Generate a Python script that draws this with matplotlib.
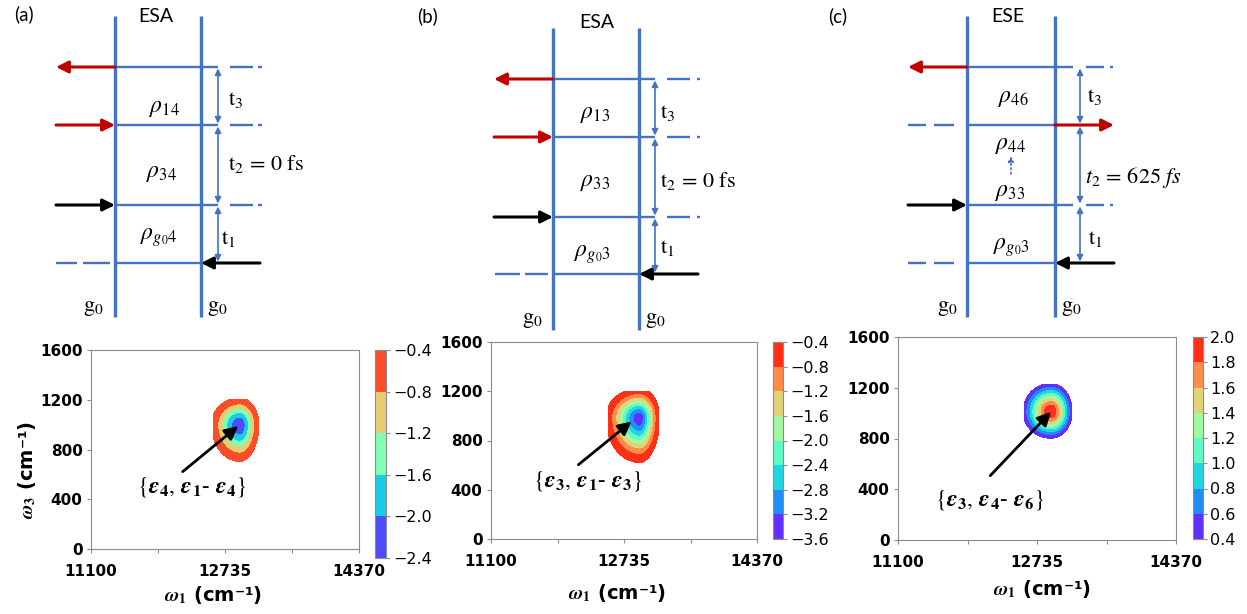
import numpy as np
import matplotlib.pyplot as plt
from matplotlib.ticker import FuncFormatter

plt.rcParams['mathtext.fontset'] = 'stix'

W, H = 1247, 614
BLUE = '#4472C4'
RED = '#C00000'
GRAY = '#8c8c8c'

# ---- text of the three double-sided diagrams ----
panel_tags = ['(a)', '(b)', '(c)']
pathways = ['ESA', 'ESA', 'ESE']
coherence_labels = [
    [r'$\rho_{14}$', r'$\rho_{34}$', r'$\rho_{g_0 4}$'],
    [r'$\rho_{13}$', r'$\rho_{33}$', r'$\rho_{g_0 3}$'],
    [r'$\rho_{46}$', r'$\rho_{44}$', r'$\rho_{33}$', r'$\rho_{g_0 3}$'],
]
delay_labels = [
    [r'$\mathrm{t}_3$', r'$\mathrm{t}_2\,=\,0\ \mathrm{fs}$', r'$\mathrm{t}_1$'],
    [r'$\mathrm{t}_3$', r'$\mathrm{t}_2\,=\,0\ \mathrm{fs}$', r'$\mathrm{t}_1$'],
    [r'$\mathrm{t}_3$', r'$t_2\,=\,625\ fs$', r'$\mathrm{t}_1$'],
]
ground_label = r'$\mathrm{g}_0$'

# ---- 2D spectra: peak ----
levels_a = [-2.4, -2.0, -1.6, -1.2, -0.8, -0.4]
levels_b = [-3.6, -3.2, -2.8, -2.4, -2.0, -1.6, -1.2, -0.8, -0.4]
levels_c = [0.4, 0.6, 0.8, 1.0, 1.2, 1.4, 1.6, 1.8, 2.0]
peak_w1 = [12915, 12925, 12900]
peak_w3 = [1000, 985, 1012]
peak_amp = [-2.3, -3.45, 1.95]
width_left = [185, 200, 185]
width_right = [125, 120, 140]
width_down = [158, 175, 118]
width_up = [115, 115, 125]
grid_w1_lo = [12592, 12542, 12585]
grid_w1_hi = [13141, 13155, 13146]
grid_w3_hi = [1205, 1200, 1225]

peak_names = [
    r'$\{\mathbfit{\varepsilon}_{\mathbf{4}},\,\mathbfit{\varepsilon}_{\mathbf{1}}$- $\mathbfit{\varepsilon}_{\mathbf{4}}\}$',
    r'$\{\mathbfit{\varepsilon}_{\mathbf{3}},\,\mathbfit{\varepsilon}_{\mathbf{1}}$- $\mathbfit{\varepsilon}_{\mathbf{3}}\}$',
    r'$\{\mathbfit{\varepsilon}_{\mathbf{3}},\,\mathbfit{\varepsilon}_{\mathbf{4}}$- $\mathbfit{\varepsilon}_{\mathbf{6}}\}$',
]
arrow_tail = [(12219, 622), (12174, 603), (12185, 507)]
arrow_head = [(12897, 989), (12829, 955), (12900, 1010)]
name_pos = [(12332, 498), (12287, 468), (12185, 316)]

w1_ticks = [11100, 12735, 14370]
w1_minor = [11917.5, 13552.5]
w3_ticks = [0, 400, 800, 1200, 1600]

# ---- layout (pixels) ----
spec_box = [(91, 350, 359, 549), (491, 342, 757, 539), (898, 337, 1176, 540)]
cbar_box = [(375, 350, 386, 558), (773, 342, 783, 539), (1193, 337, 1203, 539)]
xlabel_pos = [(213, 595), (617, 593), (1042, 589)]

diagrams = [
    dict(xl=115, xr=201, lv=[67, 125, 205, 263], ytop=16, ybot=317, tx=218,
         right_ext=[0, 1, 2], solid_end=218, dash=(230, 253), dot=(258, 262),
         left_dash=[3], left_segs=[(56, 77), (83, 110)],
         arrows=[(0, 'L', 'out', RED), (1, 'L', 'in', RED), (2, 'L', 'in', 'k'), (3, 'R', 'in', 'k')],
         tag=(14, 14), title=(156, 17),
         rho=[(165, 107), (162, 172), (159, 237)],
         t=[(228, 100), (228, 164), (221, 239)],
         g=[(93, 308), (217, 308)], rho_arrow=None),
    dict(xl=553, xr=639, lv=[79, 137, 217, 274], ytop=28, ybot=330, tx=655,
         right_ext=[0, 1, 2], solid_end=655, dash=(667, 690), dot=(697, 700),
         left_dash=[3], left_segs=[(495, 520), (525, 548)],
         arrows=[(0, 'L', 'out', RED), (1, 'L', 'in', RED), (2, 'L', 'in', 'k'), (3, 'R', 'in', 'k')],
         tag=(417, 16), title=(597, 23),
         rho=[(595, 113), (595, 181), (592, 254)],
         t=[(660, 113), (660, 181), (660, 248)],
         g=[(532, 320), (655, 320)], rho_arrow=None),
    dict(xl=967, xr=1055, lv=[67, 125, 205, 263], ytop=16, ybot=317, tx=1080,
         right_ext=[0, 2], solid_end=1073, dash=(1086, 1104), dot=(1110, 1113),
         left_dash=[1, 3], left_segs=[(908, 926), (934, 954)],
         arrows=[(0, 'L', 'out', RED), (1, 'R', 'out', RED), (2, 'L', 'in', 'k'), (3, 'R', 'in', 'k')],
         tag=(828, 16), title=(1008, 17),
         rho=[(1013, 97), (1011, 144), (1010, 191), (1011, 247)],
         t=[(1087, 97), (1085, 177), (1088, 239)],
         g=[(947, 308), (1071, 308)], rho_arrow=((1011, 174), (1011, 156))),
]


def px_rect(box):
    x0, y0, x1, y1 = box
    return [x0 / W, 1 - y1 / H, (x1 - x0) / W, (y1 - y0) / H]


def arrow(ax, tail, head, color, lw=2.2, ms=18, style='-|>'):
    ax.annotate('', xy=head, xytext=tail,
                arrowprops=dict(arrowstyle=style, color=color, lw=lw,
                                mutation_scale=ms, shrinkA=0, shrinkB=0))


def draw_diagram(ax, i, d):
    xl, xr, lv = d['xl'], d['xr'], d['lv']
    for x in (xl, xr):
        ax.plot([x, x], [d['ytop'], d['ybot']], color=BLUE, lw=2.4, solid_capstyle='butt')
    for k, y in enumerate(lv):
        end = d['solid_end'] if k in d['right_ext'] else xr
        ax.plot([xl, end], [y, y], color=BLUE, lw=1.7, solid_capstyle='butt')
        if k in d['right_ext']:
            ax.plot(d['dash'], [y, y], color=BLUE, lw=1.7, solid_capstyle='butt')
            ax.plot(d['dot'], [y, y], color=BLUE, lw=1.7, solid_capstyle='butt')
        if k in d['left_dash']:
            for seg in d['left_segs']:
                ax.plot(seg, [y, y], color=BLUE, lw=1.7, solid_capstyle='butt')
    for k, side, way, color in d['arrows']:
        y = lv[k]
        if side == 'L':
            outer, inner = xl - 59, xl
        else:
            outer, inner = xr + 59, xr
        if way == 'in':
            arrow(ax, (outer, y), (inner, y), color)
        else:
            arrow(ax, (inner, y), (outer, y), color)
    for k in range(3):
        arrow(ax, (d['tx'], lv[k] + 1.5), (d['tx'], lv[k + 1] - 1.5), BLUE,
              lw=1.2, ms=9, style='<|-|>')
    if d['rho_arrow'] is not None:
        tail, head = d['rho_arrow']
        ax.annotate('', xy=head, xytext=tail,
                    arrowprops=dict(arrowstyle='-|>', color=BLUE, lw=1.2, ls=':',
                                    mutation_scale=8, shrinkA=0, shrinkB=0))

    ax.text(*d['tag'], panel_tags[i], fontsize=13.5, family='Lato', ha='left', va='center')
    ax.text(*d['title'], pathways[i], fontsize=14, family='Lato', ha='center', va='center')
    for lab, (x, y) in zip(coherence_labels[i], d['rho']):
        ax.text(x, y, lab, fontsize=17, ha='center', va='center')
    for lab, (x, y) in zip(delay_labels[i], d['t']):
        ax.text(x, y, lab, fontsize=16, ha='left', va='center')
    for x, y in d['g']:
        ax.text(x, y, ground_label, fontsize=16, ha='center', va='center')


w1 = np.linspace(11100, 14370, 800)
w3 = np.linspace(0, 1600, 500)
X, Y = np.meshgrid(w1, w3)


def peak_field(i):
    dx = X - peak_w1[i]
    dy = Y - peak_w3[i]
    sx = np.where(dx < 0, width_left[i], width_right[i])
    sy = np.where(dy < 0, width_down[i], width_up[i])
    z = peak_amp[i] * np.exp(-0.5 * (dx / sx) ** 2 - 0.5 * (dy / sy) ** 2)
    inside = (X >= grid_w1_lo[i]) & (X <= grid_w1_hi[i]) & (Y <= grid_w3_hi[i])
    return np.ma.masked_where(~inside, z)


def fmt(v, _pos):
    return f'{v:.1f}'.replace('-', '\u2212')


fig = plt.figure(figsize=(W / 100, H / 100), dpi=100)
bg = fig.add_axes([0, 0, 1, 1])
bg.set_xlim(0, W)
bg.set_ylim(H, 0)
bg.axis('off')

for i, d in enumerate(diagrams):
    draw_diagram(bg, i, d)

all_levels = [levels_a, levels_b, levels_c]
for i in range(3):
    ax = fig.add_axes(px_rect(spec_box[i]))
    cs = ax.contourf(X, Y, peak_field(i), levels=all_levels[i], cmap='rainbow')
    ax.set_xlim(11100, 14370)
    ax.set_ylim(0, 1600)
    ax.set_xticks(w1_ticks)
    ax.set_xticks(w1_minor, minor=True)
    ax.set_yticks(w3_ticks)
    ax.tick_params(which='both', direction='out', length=3, width=0.8, color=GRAY, labelsize=11)
    ax.tick_params(axis='x', which='both', pad=8)
    ax.tick_params(axis='y', pad=3)
    for lab in ax.get_xticklabels() + ax.get_yticklabels():
        lab.set_fontweight('bold')
    for s in ax.spines.values():
        s.set_color(GRAY)
        s.set_linewidth(0.8)

    ax.annotate('', xy=arrow_head[i], xytext=arrow_tail[i],
                arrowprops=dict(arrowstyle='-|>', color='black', lw=2,
                                mutation_scale=20, shrinkA=0, shrinkB=0))
    ax.text(*name_pos[i], peak_names[i], fontsize=17, ha='center', va='center',
            family='STIXGeneral')

    cax = fig.add_axes(px_rect(cbar_box[i]))
    cb = fig.colorbar(cs, cax=cax, ticks=all_levels[i])
    cb.outline.set_edgecolor(GRAY)
    cb.outline.set_linewidth(0.8)
    cax.yaxis.set_major_formatter(FuncFormatter(fmt))
    cax.tick_params(length=3, width=0.8, color=GRAY, labelsize=11.5, pad=2)

    x, y = xlabel_pos[i]
    fig.text(x / W, 1 - y / H, r'$\mathbfit{\omega}_{\mathbf{1}}$ (cm⁻¹)',
             fontsize=14, fontweight='bold', ha='center', va='center')

fig.text(27 / W, 1 - 470 / H, r'$\mathbfit{\omega}_{\mathbf{3}}$ (cm⁻¹)',
         fontsize=14, fontweight='bold', ha='center', va='center', rotation=90)

fig.savefig('out.png', dpi=100)
